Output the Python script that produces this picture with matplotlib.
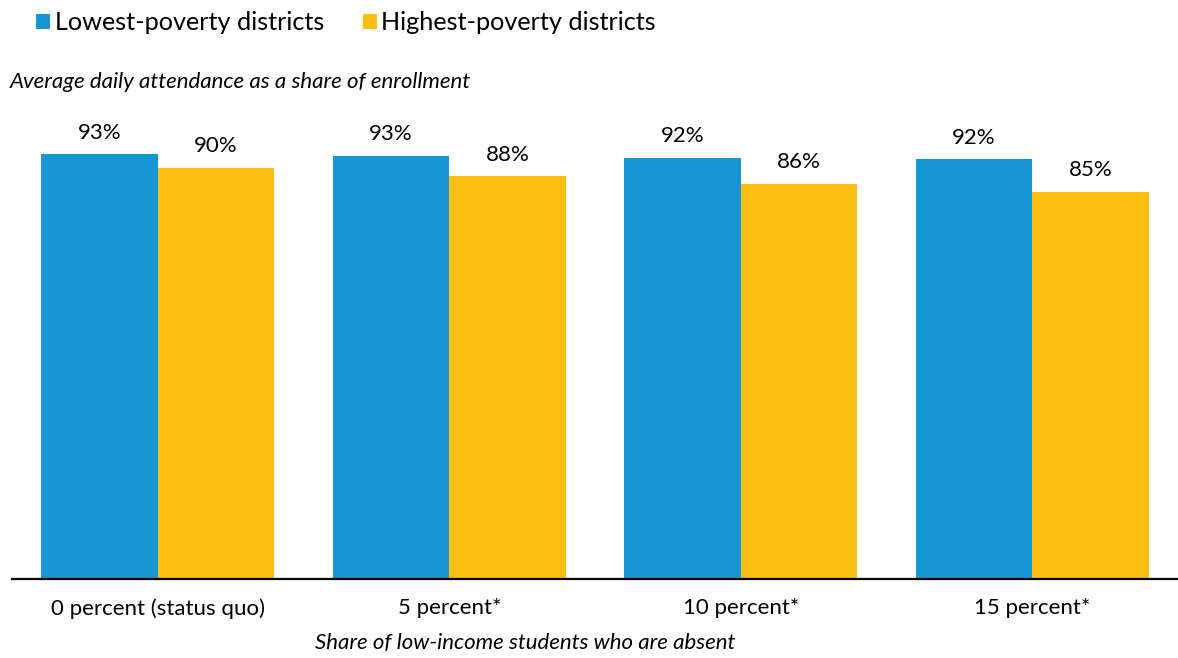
import matplotlib.pyplot as plt
from matplotlib.patches import Patch
import numpy as np

plt.rcParams['font.family'] = ['Lato', 'DejaVu Sans']

categories = ["0 percent (status quo)", "5 percent*", "10 percent*", "15 percent*"]
lowest_poverty = [92.9, 92.6, 92.1, 91.8]
highest_poverty = [89.9, 88.1, 86.4, 84.6]
series_names = ["Lowest-poverty districts", "Highest-poverty districts"]

blue = "#1696D2"
yellow = "#FDBF11"

fig = plt.figure(figsize=(11.78, 6.58), dpi=100)
ax = fig.add_axes([12 / 1178, 79 / 658, 1 - 12 / 1178, 457 / 658])

x = np.arange(len(categories))
w = 0.4
b1 = ax.bar(x - w / 2, lowest_poverty, width=w, color=blue)
b2 = ax.bar(x + w / 2, highest_poverty, width=w, color=yellow)

for bars, vals in ((b1, lowest_poverty), (b2, highest_poverty)):
    for bar, v in zip(bars, vals):
        ax.text(bar.get_x() + bar.get_width() / 2, v + 2.6, f"{v:.0f}%",
                ha="center", va="bottom", fontsize=16, color="#000000")

ax.set_xlim(-0.5, 3.5)
ax.set_ylim(0, 100)
ax.set_yticks([])
ax.set_xticks(x)
ax.set_xticklabels(categories, fontsize=16)
ax.tick_params(axis="x", length=0, pad=14)
for side in ("top", "right", "left"):
    ax.spines[side].set_visible(False)
ax.spines["bottom"].set_linewidth(1.6)
ax.spines["bottom"].set_color("#000000")

fig.text(10 / 1178, 1 - 82 / 658, "Average daily attendance as a share of enrollment",
         fontsize=16, style="italic", va="center", ha="left")
fig.text(525 / 1178, 1 - 643 / 658, "Share of low-income students who are absent",
         fontsize=16, style="italic", va="center", ha="center")

handles = [Patch(facecolor=blue), Patch(facecolor=yellow)]
fig.legend(handles, series_names, loc="upper left", ncol=2,
           bbox_to_anchor=(26 / 1178, 1 - 1 / 658), frameon=False,
           fontsize=18.2, handlelength=0.55, handleheight=0.55,
           handletextpad=0.18, columnspacing=1.55, borderaxespad=0)

fig.savefig("out.png", dpi=100)
